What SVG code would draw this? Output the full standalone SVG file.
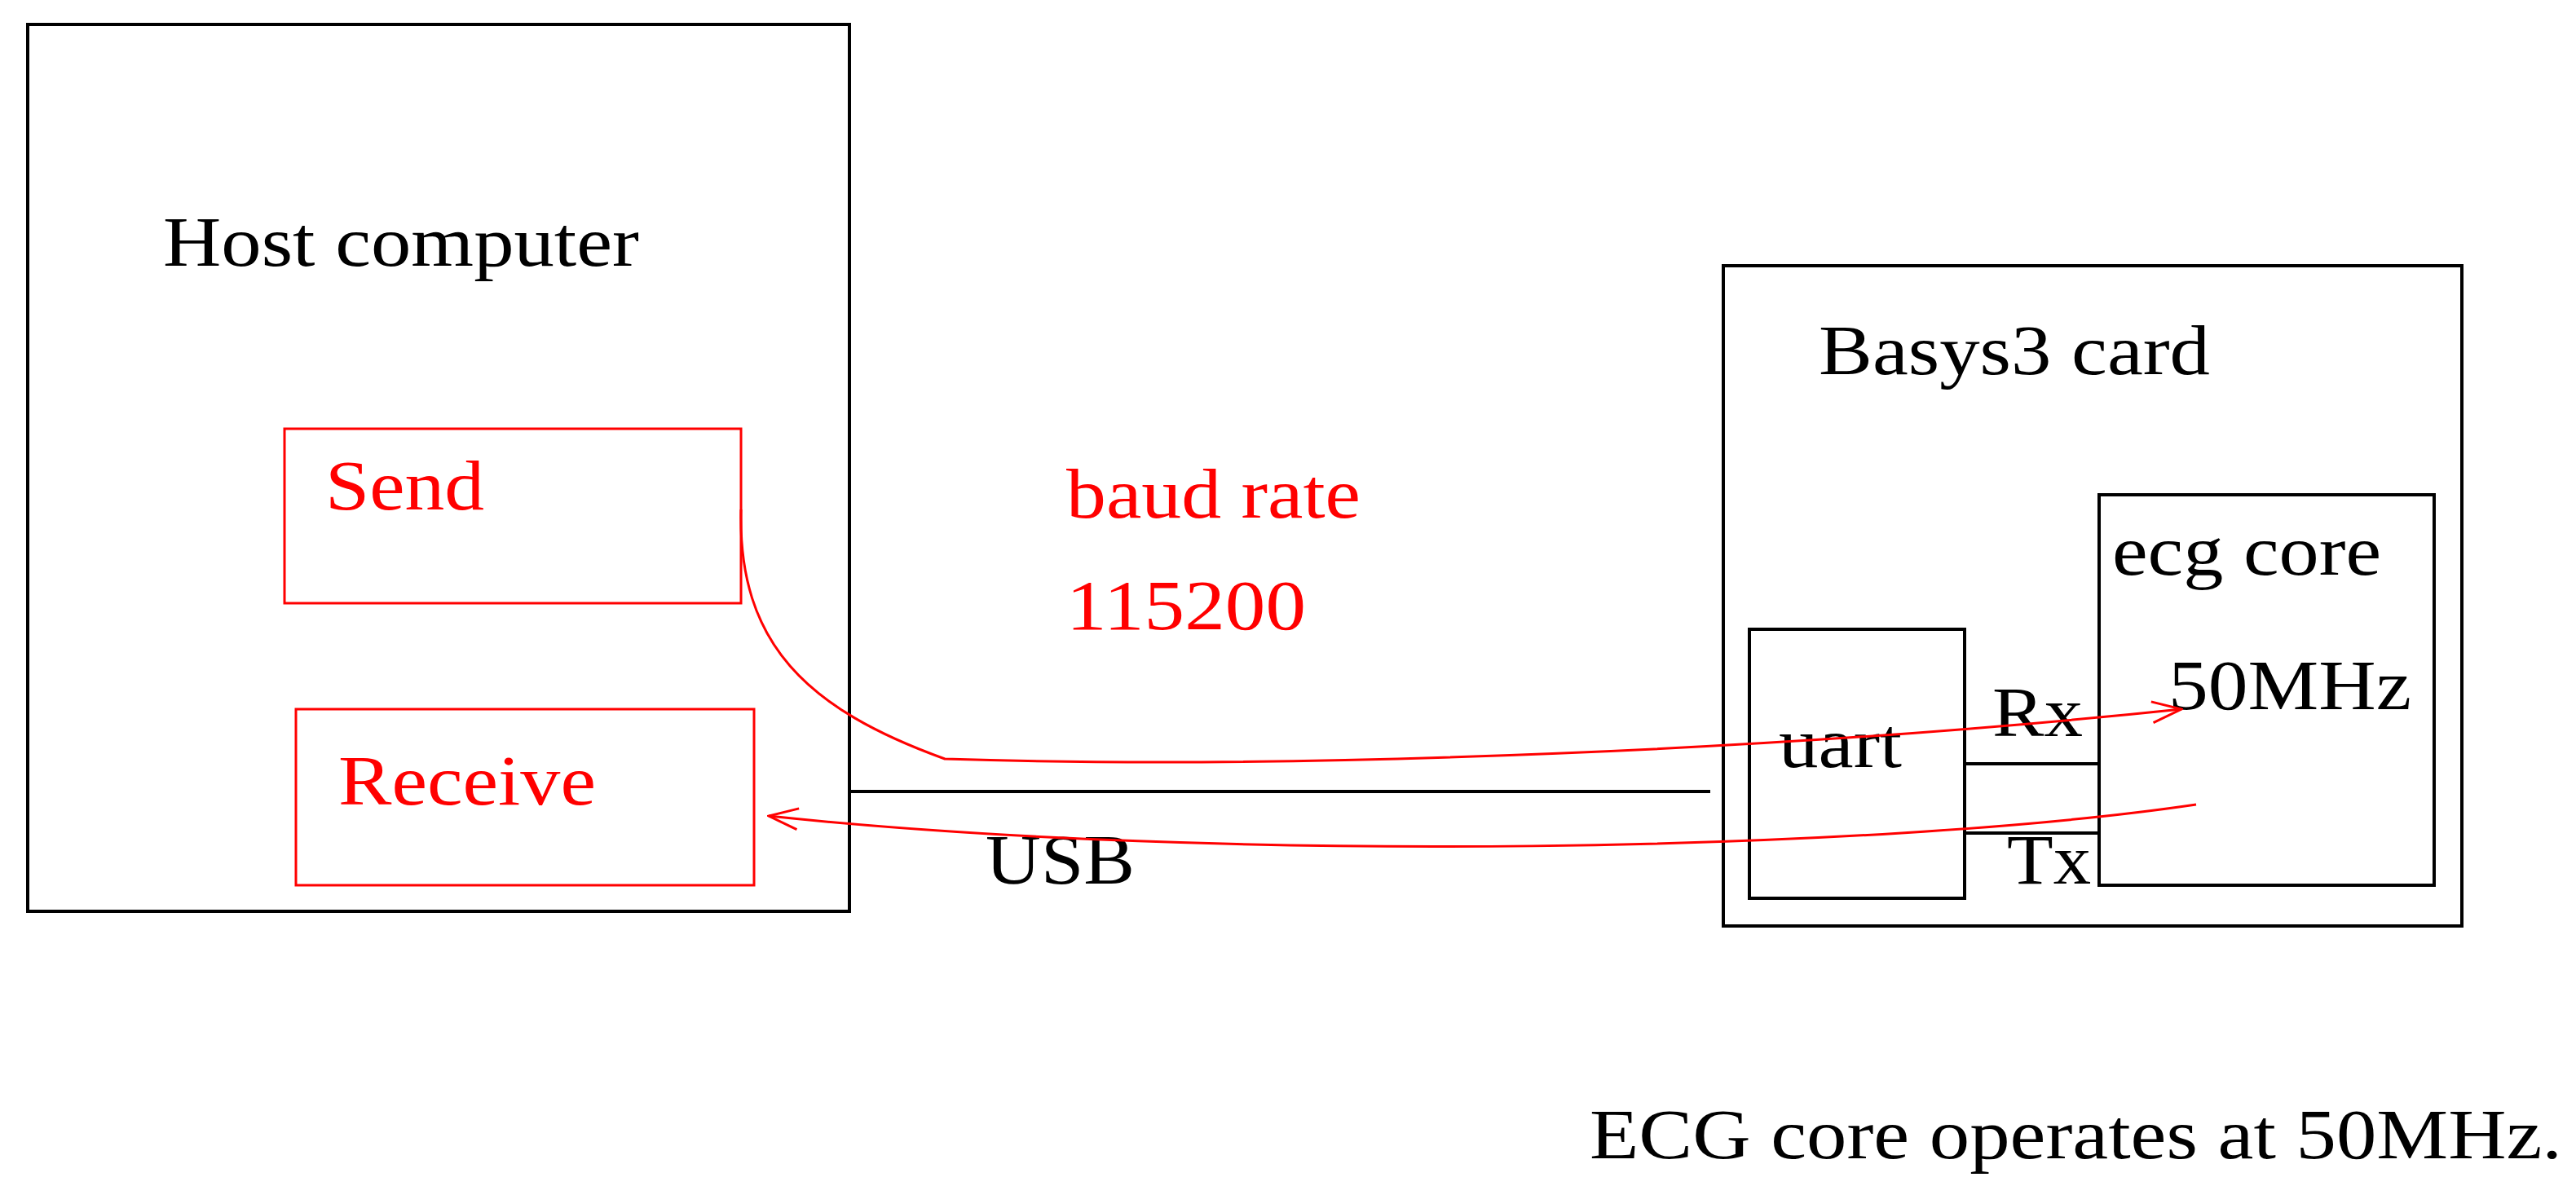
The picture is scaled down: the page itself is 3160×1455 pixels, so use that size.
<svg xmlns="http://www.w3.org/2000/svg" width="3160" height="1455" viewBox="0 0 3160 1455">
<style>
text{font-family:"Liberation Serif",serif;font-size:86px}
.b{fill:none;stroke:#000;stroke-width:4}
.r{fill:none;stroke:#f00;stroke-width:3}
.rt{fill:#f00}
</style>
<defs><marker id="a" markerWidth="40" markerHeight="30" refX="38" refY="15" orient="auto" markerUnits="userSpaceOnUse"><path d="M2,2 L38,15 L2,28" fill="none" stroke="#f00" stroke-width="3"/></marker></defs>
<rect width="3160" height="1455" fill="#fff"/>
<g id="host"><rect class="b" x="34" y="30" width="1008" height="1088"/><text x="200" y="326" textLength="584" lengthAdjust="spacingAndGlyphs">Host computer</text></g>
<g id="send"><rect class="r" x="349" y="526" width="560" height="214"/><text class="rt" x="399" y="625" textLength="195" lengthAdjust="spacingAndGlyphs">Send</text></g>
<g id="receive"><rect class="r" x="363" y="870" width="562" height="216"/><text class="rt" x="415" y="987" textLength="316" lengthAdjust="spacingAndGlyphs">Receive</text></g>
<g id="basys"><rect class="b" x="2114" y="326" width="906" height="810"/><text x="2231" y="459" textLength="480" lengthAdjust="spacingAndGlyphs">Basys3 card</text></g>
<g id="ecg"><rect class="b" x="2575" y="607" width="411" height="479"/><text x="2591" y="705" textLength="330" lengthAdjust="spacingAndGlyphs">ecg core</text><text x="2660" y="870" textLength="298" lengthAdjust="spacingAndGlyphs">50MHz</text></g>
<g id="uart"><rect class="b" x="2146" y="772" width="264" height="330"/><text x="2182" y="941" textLength="151" lengthAdjust="spacingAndGlyphs">uart</text></g>
<g id="labels"><text class="rt" x="1308" y="635" textLength="361" lengthAdjust="spacingAndGlyphs">baud rate</text><text class="rt" x="1308" y="772" textLength="294" lengthAdjust="spacingAndGlyphs">115200</text><text x="1209" y="1084" textLength="183" lengthAdjust="spacingAndGlyphs">USB</text><text x="2444" y="903" textLength="111" lengthAdjust="spacingAndGlyphs">Rx</text><text x="2462" y="1084" textLength="103" lengthAdjust="spacingAndGlyphs">Tx</text><text x="1950" y="1421" textLength="1193" lengthAdjust="spacingAndGlyphs">ECG core operates at 50MHz.</text></g>
<g id="connectors">
<line class="b" x1="1042" y1="971" x2="2098" y2="971"/>
<line class="b" x1="2410" y1="937" x2="2575" y2="937"/>
<line class="b" x1="2410" y1="1022" x2="2575" y2="1022"/>
<path class="r" d="M909,625 C905,790 990,870 1159,931 C1600,945 2200,920 2676,870" marker-end="url(#a)"/>
<path class="r" d="M2694,987 C2300,1045 1500,1060 943,1001" marker-end="url(#a)"/>
</g>
</svg>
